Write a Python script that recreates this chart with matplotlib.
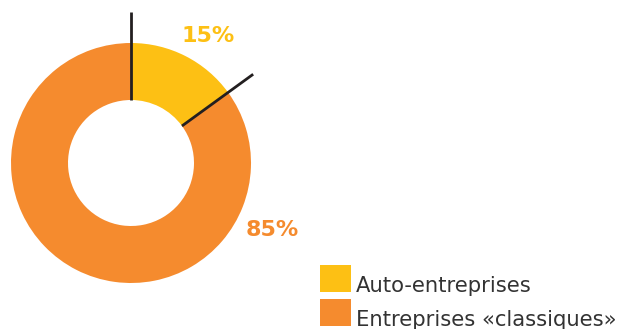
import numpy as np
import matplotlib.pyplot as plt
from matplotlib.patches import Rectangle

labels = ["Auto-entreprises", "Entreprises «classiques»"]
values = [15, 85]
colors = ["#FDC014", "#F58B2E"]

W, H = 619, 329
fig = plt.figure(figsize=(W / 100, H / 100), dpi=100)
ax = fig.add_axes([0, 0, 1, 1])

cx, cy = 131, 166
r_out, r_in = 120, 63

wedges, _ = ax.pie(values, colors=colors, startangle=90, counterclock=False,
                   center=(cx, cy), radius=r_out, frame=True,
                   wedgeprops=dict(width=r_out - r_in, linewidth=0))
ax.set_xlim(0, W)
ax.set_ylim(0, H)
ax.set_aspect("equal")
ax.axis("off")

# separator lines at slice borders
frac = np.cumsum([0] + values[:-1]) / sum(values)
for f in frac:
    ang = np.deg2rad(90 - 360 * f)
    ax.plot([cx + r_in * np.cos(ang), cx + 151 * np.cos(ang)],
            [cy + r_in * np.sin(ang), cy + 151 * np.sin(ang)],
            color="#231f20", lw=2, solid_capstyle="butt")

ax.text(208, 293, f"{values[0]}%", color=colors[0], fontsize=16,
        fontweight="bold", ha="center", va="center")
ax.text(272, 99, f"{values[1]}%", color=colors[1], fontsize=16,
        fontweight="bold", ha="center", va="center")

# legend
for i, (lab, col) in enumerate(zip(labels, colors)):
    y0 = 37 - 34 * i
    ax.add_patch(Rectangle((320, y0), 31, 27, facecolor=col, edgecolor="none"))
    ax.text(356, y0, lab, fontsize=15.2, color="#333333", va="baseline", ha="left")

fig.savefig("out.png", dpi=100)
